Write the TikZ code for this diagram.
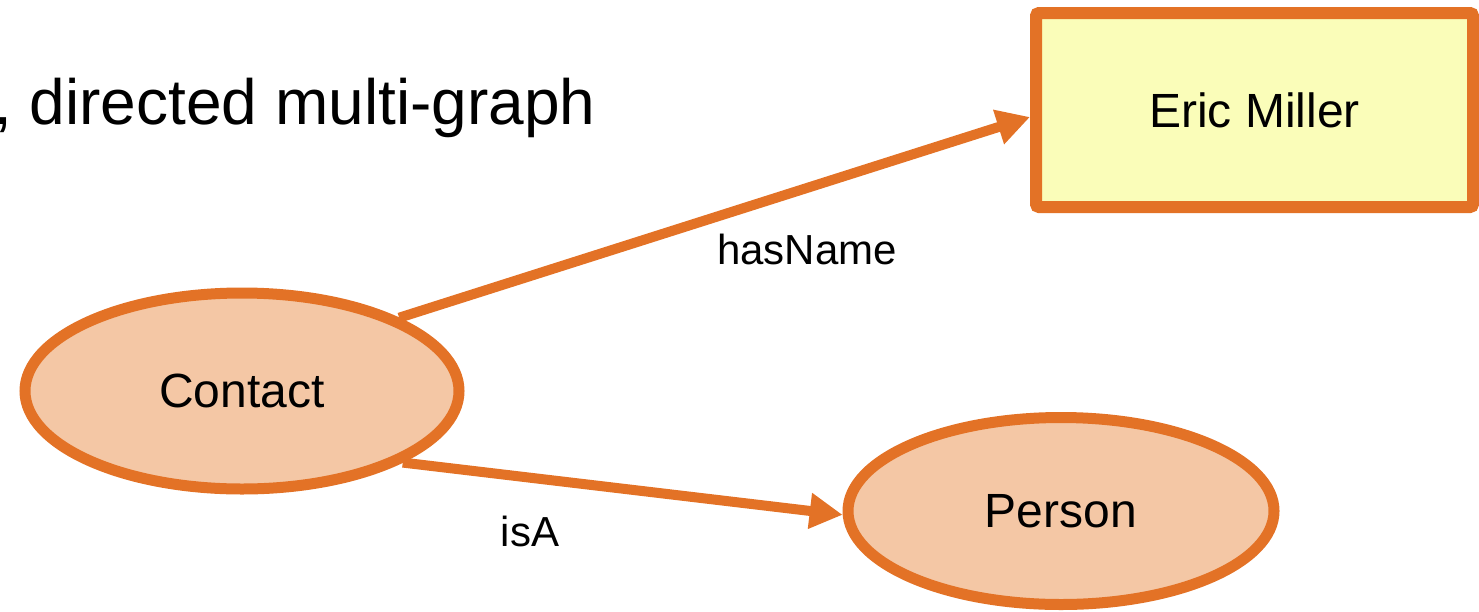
\documentclass[tikz,border=0pt]{standalone}
\usepackage{fontspec}
\setmainfont{Liberation Sans}
\usetikzlibrary{shapes.geometric,arrows.meta}
\definecolor{edgeorange}{HTML}{E37226}
\definecolor{peach}{HTML}{F4C7A5}
\definecolor{paleyellow}{HTML}{FAFDB9}
\tikzset{
  classnode/.style={ellipse, draw=edgeorange, fill=peach, line width=11pt, inner sep=0pt,
    font=\fontsize{48}{58}\selectfont},
  literalnode/.style={rectangle, draw=edgeorange, fill=paleyellow, line width=12pt, inner sep=0pt,
    rounded corners=3pt, minimum width=437pt, minimum height=194pt,
    font=\fontsize{48}{58}\selectfont},
  relation/.style={draw=edgeorange, line width=10pt, -{Triangle[length=33pt,width=34pt]}},
  edgelabel/.style={font=\fontsize{42}{50}\selectfont, inner sep=0pt, anchor=base},
  titletext/.style={font=\fontsize{64}{76}\selectfont, inner sep=0pt, anchor=base west}
}
\begin{document}
\begin{tikzpicture}[x=1pt,y=-1pt]
\useasboundingbox (0,0) rectangle (1479,611);
\node[titletext] (title) at (-6,124) {, directed multi-graph};
\node[classnode, minimum width=434pt, minimum height=196pt] (contact) at (242,391) {Contact};
\node[classnode, minimum width=426pt, minimum height=187pt] (person) at (1061,511) {Person};
\node[literalnode] (eric) at (1254.5,110) {Eric Miller};
\draw[relation] (contact.25.5) -- ([yshift=-7pt]eric.west);
\draw[relation] (contact.-24.6) -- (person.181.6);
\node[edgelabel] (lblname) at (807,264) {hasName};
\node[edgelabel] (lblisa) at (530,546) {isA};
\end{tikzpicture}
\end{document}
